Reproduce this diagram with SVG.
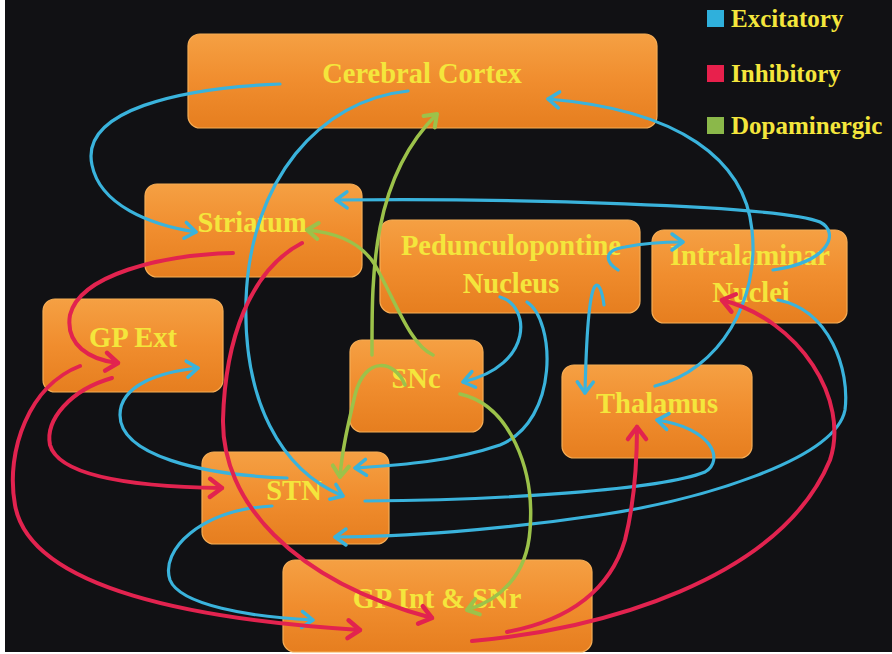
<svg xmlns="http://www.w3.org/2000/svg" width="892" height="654" viewBox="0 0 892 654">
<style>
.node rect{fill:url(#og);stroke:#f6ad55;stroke-width:1.2}
.lbl{font-family:"Liberation Serif","Times New Roman",serif;font-weight:bold;font-size:28.5px;fill:#f4e63c;text-anchor:middle}
.leg{font-family:"Liberation Serif","Times New Roman",serif;font-weight:bold;font-size:25px;fill:#f4e63c}
.c{fill:none;stroke-linecap:round}
.b{stroke:#3ab3dc;stroke-width:3.2;marker-end:url(#mb)}
.r{stroke:#e2234f;stroke-width:4;marker-end:url(#mr)}
.g{stroke:#9cc24a;stroke-width:3.5;marker-end:url(#mg)}
</style>
<defs>
<linearGradient id="og" x1="0" y1="0" x2="0" y2="1">
<stop offset="0" stop-color="#f5a043"/>
<stop offset="0.5" stop-color="#f08d2e"/>
<stop offset="1" stop-color="#e67e1f"/>
</linearGradient>
<marker id="mb" markerUnits="userSpaceOnUse" markerWidth="30" markerHeight="30" refX="15" refY="15" orient="auto" overflow="visible"><path d="M4,7 L15,15 L4,23" fill="none" stroke="#3ab3dc" stroke-width="3.5" stroke-linecap="round" stroke-linejoin="round"/></marker>
<marker id="mr" markerUnits="userSpaceOnUse" markerWidth="30" markerHeight="30" refX="15" refY="15" orient="auto" overflow="visible"><path d="M3,6 L15,15 L3,24" fill="none" stroke="#e2234f" stroke-width="4.5" stroke-linecap="round" stroke-linejoin="round"/></marker>
<marker id="mg" markerUnits="userSpaceOnUse" markerWidth="30" markerHeight="30" refX="15" refY="15" orient="auto" overflow="visible"><path d="M4,7 L15,15 L4,23" fill="none" stroke="#9cc24a" stroke-width="4" stroke-linecap="round" stroke-linejoin="round"/></marker>
</defs>
<rect x="0" y="0" width="892" height="654" fill="#ffffff"/>
<rect x="5" y="0" width="887" height="652" fill="#111114"/>

<g id="legend">
<rect x="707" y="10" width="17" height="17" fill="#2fb0dc"/>
<text class="leg" x="731" y="27">Excitatory</text>
<rect x="707" y="65" width="17" height="17" fill="#e8204c"/>
<text class="leg" x="731" y="82">Inhibitory</text>
<rect x="707" y="117" width="17" height="17" fill="#8bb84a"/>
<text class="leg" x="731" y="134">Dopaminergic</text>
</g>

<g id="cortex" class="node"><rect x="188" y="34" width="469" height="94" rx="12"/><text class="lbl" x="422" y="83">Cerebral Cortex</text></g>
<g id="striatum" class="node"><rect x="145" y="184" width="217" height="93" rx="12"/><text class="lbl" x="252" y="232">Striatum</text></g>
<g id="ppn" class="node"><rect x="380" y="220" width="260" height="93" rx="12"/><text class="lbl" x="511" y="255">Pedunculopontine</text><text class="lbl" x="511" y="293">Nucleus</text></g>
<g id="intralaminar" class="node"><rect x="652" y="230" width="195" height="93" rx="12"/><text class="lbl" x="750" y="265">Intralaminar</text><text class="lbl" x="751" y="302">Nuclei</text></g>
<g id="gpext" class="node"><rect x="43" y="299" width="180" height="93" rx="12"/><text class="lbl" x="133" y="347">GP Ext</text></g>
<g id="snc" class="node"><rect x="350" y="340" width="133" height="92" rx="12"/><text class="lbl" x="416" y="388">SNc</text></g>
<g id="thalamus" class="node"><rect x="562" y="365" width="190" height="93" rx="12"/><text class="lbl" x="657" y="413">Thalamus</text></g>
<g id="stn" class="node"><rect x="202" y="452" width="187" height="92" rx="12"/><text class="lbl" x="294" y="500">STN</text></g>
<g id="gpint" class="node"><rect x="283" y="560" width="309" height="92" rx="12"/><text class="lbl" x="437" y="608">GP Int &amp; SNr</text></g>

<g id="connectors">
<!-- excitatory -->
<path class="c b" d="M280,84 C180,88 80,110 92,165 C100,205 150,225 196,232"/>
<path class="c b" d="M408,91 C320,100 250,180 246,300 C243,400 280,470 343,496"/>
<path class="c b" d="M655,386 C720,370 760,300 752,230 C745,160 680,110 548,99"/>
<path class="c b" d="M773,270 C830,262 840,232 820,222 C780,205 500,198 336,200"/>
<path class="c b" d="M618,270 C605,262 603,250 625,247 C645,243 660,242 683,242"/>
<path class="c b" d="M604,305 C602,290 598,280 594,288 C588,300 586,350 585,393"/>
<path class="c b" d="M500,297 C530,305 535,365 463,382"/>
<path class="c b" d="M527,302 C555,320 560,420 500,445 C450,462 400,465 355,468"/>
<path class="c b" d="M365,501 C500,500 660,490 705,472 C725,460 712,428 657,420"/>
<path class="c b" d="M778,300 C830,310 850,370 845,410 C835,460 700,500 600,515 C500,530 400,537 335,537"/>
<path class="c b" d="M287,478 C200,475 120,455 120,415 C120,385 160,372 198,368"/>
<path class="c b" d="M272,506 C200,510 160,550 170,580 C180,605 250,617 313,620"/>
<!-- dopaminergic -->
<path class="c g" d="M372,355 C372,280 370,180 437,114"/>
<path class="c g" d="M433,355 C410,345 395,300 375,265 C360,240 330,232 307,230"/>
<path class="c g" d="M405,385 C395,360 365,355 355,395 C348,425 342,450 340,477"/>
<path class="c g" d="M460,394 C510,405 535,470 530,530 C527,575 500,600 467,610"/>
<!-- inhibitory -->
<path class="c r" d="M233,253 C160,255 80,275 70,315 C65,345 90,360 118,363"/>
<path class="c r" d="M302,243 C250,270 225,340 223,420 C222,500 290,580 432,618"/>
<path class="c r" d="M112,378 C70,390 45,420 50,445 C60,480 150,487 222,488"/>
<path class="c r" d="M80,366 C30,385 5,450 15,505 C30,590 200,620 360,630"/>
<path class="c r" d="M507,632 C570,620 610,590 625,540 C635,500 637,460 637,427"/>
<path class="c r" d="M472,641 C600,630 780,580 830,460 C850,400 800,320 722,300"/>
</g>
</svg>
